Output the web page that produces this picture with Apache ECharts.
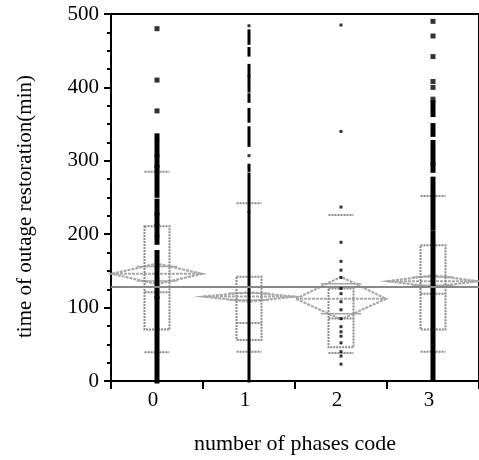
<!DOCTYPE html>
<html><head><meta charset="utf-8">
<script src="https://cdn.jsdelivr.net/npm/echarts@6/dist/echarts.min.js"></script>
<style>html,body{margin:0;padding:0;background:#fff}#c{width:479px;height:460px}</style>
</head><body><div id="c"></div>
<script>
// ---------------- data ----------------
const categories = ['0', '1', '2', '3'];
const yTicks = [0, 100, 200, 300, 400, 500];
// outlier box plot (quantiles & whisker ends)
const boxQ1 = [70, 56, 46, 70];
const boxMedian = [121, 79, 85, 119];
const boxQ3 = [211, 142, 126, 185];
const whiskerLow = [39, 40, 38, 40];
const whiskerHigh = [285, 242, 226, 252];
// means diamonds (mean and 95% CI)
const groupMean = [146, 115, 112, 136];
const ciLow = [132, 108, 84, 128];
const ciHigh = [160, 121, 142, 144];
const grandMean = 128;
// observations: runs of overlapping points [low, high] and isolated points
const runs0 = [[0,112],[115,175],[189,195],[200,211],[216,226],[229,245],[253,291],[294,305],[309,325],[331,334]];
const points0 = [368, 410, 480];
const runs1 = [[0,229],[231,282],[287,294],[321,345],[354,370],[381,390],[395,408],[412,415],[417,430],[444,453],[460,477]];
const points1 = [307, 484];
const runs2 = [];
const points2 = [23,34,40,52,61,67,74,85,97,108,119,126,141,151,163,189,237,340,485];
const runs3 = [[3,202],[209,275],[287,294],[298,325],[336,348],[363,379]];
const points3 = [384,400,408,442,470,490];

// ---------------- styles ----------------
const FONT = '"Liberation Serif", "Times New Roman", serif';
const GRAY = '#a8a8a8';
const BOXGRAY = '#8a8a8a';
const markerW = [5, 3, 3, 5];
const BOX_HALF = 12.5;

const allRuns = [runs0, runs1, runs2, runs3];
const allPoints = [points0, points1, points2, points3];

const runData = [];
allRuns.forEach((rs, i) => rs.forEach(r => runData.push([i, r[0], r[1]])));
const pointData = [];
allPoints.forEach((ps, i) => ps.forEach(v => pointData.push([i, v])));
const boxData = categories.map((c, i) => [i, boxQ1[i], boxMedian[i], boxQ3[i], whiskerLow[i], whiskerHigh[i]]);
const diamondData = categories.map((c, i) => [i, groupMean[i], ciLow[i], ciHigh[i]]);

function renderDiamond(params, api) {
  const x = api.value(0);
  const m = api.coord([x, api.value(1)]);
  const lo = api.coord([x, api.value(2)]);
  const hi = api.coord([x, api.value(3)]);
  const bw = api.size([1, 0])[0];
  const hw = bw * 0.49;
  const half = (lo[1] - hi[1]) / 2;
  const ov = half * Math.SQRT1_2;
  const st = { stroke: GRAY, lineWidth: 2.2, lineDash: [3, 1], fill: null };
  return {
    type: 'group',
    children: [
      { type: 'polygon', shape: { points: [[m[0] - hw, m[1]], [m[0], hi[1]], [m[0] + hw, m[1]], [m[0], lo[1]]] }, style: st },
      { type: 'line', shape: { x1: m[0] - hw, y1: m[1], x2: m[0] + hw, y2: m[1] }, style: { stroke: GRAY, lineWidth: 2, lineDash: [3, 1] } },
      { type: 'line', shape: { x1: m[0] - hw * 0.45, y1: m[1] - ov, x2: m[0] + hw * 0.45, y2: m[1] - ov }, style: { stroke: GRAY, lineWidth: 1.5 } },
      { type: 'line', shape: { x1: m[0] - hw * 0.45, y1: m[1] + ov, x2: m[0] + hw * 0.45, y2: m[1] + ov }, style: { stroke: GRAY, lineWidth: 1.5 } }
    ]
  };
}

function renderBox(params, api) {
  const x = api.value(0);
  const q1 = api.coord([x, api.value(1)]);
  const md = api.coord([x, api.value(2)]);
  const q3 = api.coord([x, api.value(3)]);
  const wl = api.coord([x, api.value(4)]);
  const wh = api.coord([x, api.value(5)]);
  const cx = q1[0];
  const st = { stroke: BOXGRAY, lineWidth: 2, lineDash: [2, 1], fill: null };
  return {
    type: 'group',
    children: [
      { type: 'rect', shape: { x: cx - BOX_HALF, y: q3[1], width: BOX_HALF * 2, height: q1[1] - q3[1] }, style: st },
      { type: 'line', shape: { x1: cx - BOX_HALF, y1: md[1], x2: cx + BOX_HALF, y2: md[1] }, style: st },
      { type: 'line', shape: { x1: cx - BOX_HALF, y1: wl[1], x2: cx + BOX_HALF, y2: wl[1] }, style: st },
      { type: 'line', shape: { x1: cx - BOX_HALF, y1: wh[1], x2: cx + BOX_HALF, y2: wh[1] }, style: st }
    ]
  };
}

function renderRun(params, api) {
  const x = api.value(0);
  const a = api.coord([x, api.value(1)]);
  const b = api.coord([x, api.value(2)]);
  const w = markerW[x];
  return {
    type: 'rect',
    shape: { x: a[0] - w / 2, y: b[1] - w / 2, width: w, height: a[1] - b[1] + w },
    style: { fill: '#000' }
  };
}

const chart = echarts.init(document.getElementById('c'), null, { renderer: 'canvas' });
chart.setOption({
  animation: false,
  backgroundColor: '#fff',
  grid: { left: 111, right: -7, top: 14, bottom: 74, show: true, borderColor: '#000', borderWidth: 2, backgroundColor: 'transparent' },
  xAxis: {
    type: 'category',
    data: categories,
    name: 'number of phases code',
    nameLocation: 'middle',
    nameGap: 52,
    nameTextStyle: { fontFamily: FONT, fontSize: 22, color: '#000' },
    axisLine: { lineStyle: { color: '#000', width: 2 } },
    axisTick: { show: true, length: 8, lineStyle: { color: '#000', width: 2 } },
    axisLabel: { fontFamily: FONT, fontSize: 21, color: '#000', margin: 9, padding: [0, 8, 0, 0] },
    splitLine: { show: false }
  },
  yAxis: {
    type: 'value',
    min: yTicks[0],
    max: yTicks[yTicks.length - 1],
    interval: 100,
    name: 'time of outage restoration(min)',
    nameLocation: 'middle',
    nameGap: 75,
    nameTextStyle: { fontFamily: FONT, fontSize: 21, color: '#000', padding: [0, 18, 0, 0] },
    axisLine: { show: true, lineStyle: { color: '#000', width: 2 } },
    axisTick: { show: true, length: 7, lineStyle: { color: '#000', width: 2 } },
    minorTick: { show: true, splitNumber: 4, length: 4, lineStyle: { color: '#000', width: 2 } },
    axisLabel: { fontFamily: FONT, fontSize: 21, color: '#000', margin: 12 },
    splitLine: { show: false },
    minorSplitLine: { show: false }
  },
  series: [
    {
      type: 'custom', name: 'diamonds', renderItem: renderDiamond, data: diamondData, z: 2,
      markLine: {
        silent: true, symbol: 'none', label: { show: false },
        lineStyle: { color: '#888', width: 2, type: 'solid' },
        data: [{ yAxis: grandMean }]
      }
    },
    { type: 'custom', name: 'boxes', renderItem: renderBox, data: boxData, z: 3 },
    { type: 'custom', name: 'runs', renderItem: renderRun, data: runData, z: 4 },
    {
      type: 'scatter', name: 'points', data: pointData, z: 5,
      symbol: 'rect',
      symbolSize: (v) => markerW[v[0]],
      itemStyle: { color: '#000' }
    }
  ]
});
</script>
</body></html>
